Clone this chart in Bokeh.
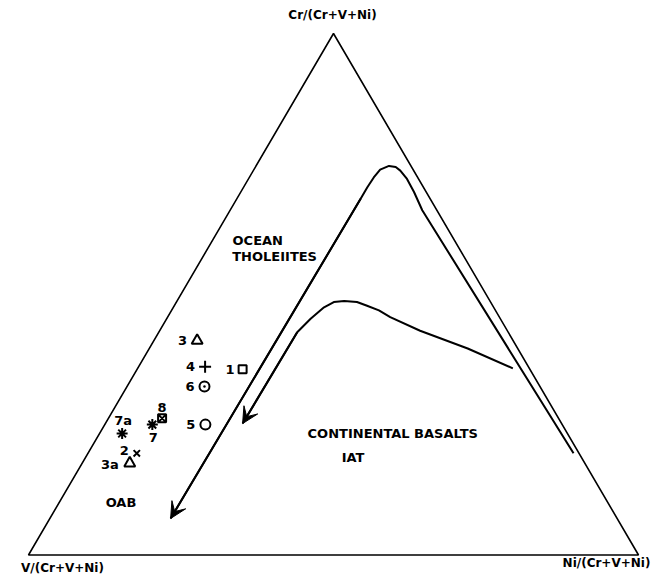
import math
from bokeh.plotting import figure
from bokeh.models import ColumnDataSource, Range1d, Arrow, VeeHead
from bokeh.core.properties import value
from bokeh.embed import file_html
from bokeh.resources import INLINE

# ---------------- data (ternary fractions, in percent) ----------------
sample_labels = ["3", "4", "1", "6", "8", "7", "7a", "5", "2", "3a"]
sample_cr = [41.1, 36.1, 35.6, 32.3, 26.2, 25.0, 23.3, 25.0, 19.5, 17.6]
sample_ni = [7.1, 10.9, 17.3, 12.7, 8.8, 7.8, 3.7, 16.5, 8.0, 7.8]
sample_markers = ["triangle", "cross", "square", "circle_dot", "square_x",
                  "asterisk", "asterisk", "circle", "x", "triangle"]

# field boundary curves (Cr %, Ni %), last point = arrow tip
outer_cr = [19.5, 66.1, 69.6, 72.1, 73.7, 74.4, 74.6, 73.9, 72.4, 70.5, 68.3, 7.0]
outer_ni = [79.6, 31.5, 28.4, 26.0, 24.1, 23.0, 21.8, 20.7, 20.4, 20.3, 20.3, 19.8]
inner_cr = [35.8, 39.6, 43.0, 45.6, 46.9, 47.8, 48.5, 48.7, 48.5, 47.5, 45.3, 42.7, 25.2]
inner_ni = [61.5, 52.2, 42.7, 36.5, 34.0, 31.6, 29.6, 27.4, 25.8, 24.7, 23.6, 22.7, 22.5]

field_labels = ["OCEAN", "THOLEIITES", "CONTINENTAL BASALTS", "IAT", "OAB"]
field_cr = [60.3, 57.2, 23.3, 18.7, 10.1]
field_ni = [3.3, 4.8, 34.1, 42.0, 7.6]

apex_labels = ["Cr/(Cr+V+Ni)", "V/(Cr+V+Ni)", "Ni/(Cr+V+Ni)"]
apex_cr = [100.0, 0.0, 0.0]
apex_ni = [0.0, 0.0, 100.0]

# ---------------- helpers ----------------
H = math.sqrt(3) / 2


def tx(cr, ni):
    return [n / 100.0 + c / 200.0 for c, n in zip(cr, ni)]


def ty(cr):
    return [c / 100.0 * H for c in cr]


FONT = value("DejaVu Sans")

p = figure(width=672, height=581, output_backend="svg", toolbar_location=None,
           x_range=Range1d(-0.04590, 1.05574), y_range=Range1d(-0.04401, 0.92079),
           min_border=0)
p.axis.visible = False
p.grid.visible = False
p.outline_line_color = None
p.background_fill_color = "white"
p.border_fill_color = "white"

# triangle frame
vx = tx(apex_cr, apex_ni)
vy = ty(apex_cr)
p.line(vx + [vx[0]], vy + [vy[0]], line_color="black", line_width=1.6)

# curves
for crs, nis in ((outer_cr, outer_ni), (inner_cr, inner_ni)):
    xs = tx(crs, nis)
    ys = ty(crs)
    p.line(xs, ys, line_color="black", line_width=2, line_join="round")
    p.add_layout(Arrow(end=VeeHead(size=16, fill_color="black", line_color="black", line_width=1),
                       x_start=xs[-2], y_start=ys[-2], x_end=xs[-1], y_end=ys[-1],
                       line_color="black", line_width=2))

# sample points
sizes = {"triangle": 11, "cross": 12, "square": 8, "circle_dot": 10, "square_x": 8,
         "asterisk": 11, "circle": 10, "x": 9}
src = ColumnDataSource(dict(
    x=tx(sample_cr, sample_ni), y=ty(sample_cr), marker=sample_markers,
    size=[sizes[m] for m in sample_markers]))
p.scatter("x", "y", marker="marker", size="size", source=src,
          fill_color=None, line_color="black", line_width=2)

# sample labels (offsets are layout, in pixels)
lab_style = {
    "3": (-10, 0, "right"), "4": (-10, 0, "right"), "1": (-8, 0, "right"),
    "6": (-10, 0, "right"), "8": (0, -11, "center"), "7": (1, 13, "center"),
    "7a": (1, -13, "center"), "5": (-10, 0, "right"), "2": (-8, -3, "right"),
    "3a": (-11, 1, "right"),
}
lsrc = ColumnDataSource(dict(
    x=tx(sample_cr, sample_ni), y=ty(sample_cr), text=sample_labels,
    xo=[lab_style[t][0] for t in sample_labels],
    yo=[lab_style[t][1] for t in sample_labels],
    align=[lab_style[t][2] for t in sample_labels]))
p.text("x", "y", text="text", source=lsrc, x_offset="xo", y_offset="yo",
       text_align="align", text_baseline="middle", text_font=FONT,
       text_font_style="bold", text_font_size="13px", text_color="black")

# field labels
p.text(tx(field_cr, field_ni), ty(field_cr), text=field_labels,
       text_align="left", text_baseline="middle", text_font=FONT,
       text_font_style="bold", text_font_size="13px", text_color="black")

# apex labels
p.text(vx, vy, text=apex_labels, x_offset=[-1, 34, -32], y_offset=[-18, 13, 8],
       text_align="center", text_baseline="middle", text_font=FONT,
       text_font_style="bold", text_font_size="12px", text_color="black")

open("out.html", "w").write(file_html(p, INLINE))
